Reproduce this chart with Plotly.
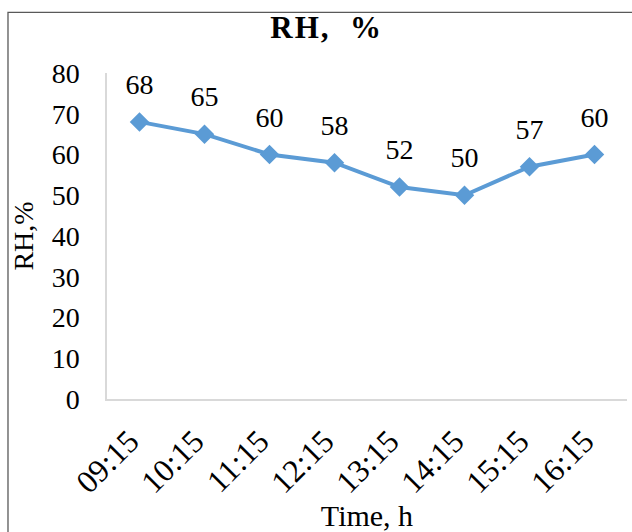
import plotly.graph_objects as go

# Relative humidity readings over the day
times = ["09:15", "10:15", "11:15", "12:15", "13:15", "14:15", "15:15", "16:15"]
rh_values = [68, 65, 60, 58, 52, 50, 57, 60]
y_ticks = [0, 10, 20, 30, 40, 50, 60, 70, 80]

FONT = "Liberation Serif"
BLUE = "#5B9BD5"

fig = go.Figure()
fig.add_trace(go.Scatter(
    x=times, y=rh_values,
    mode="lines+markers",
    line=dict(color=BLUE, width=4),
    marker=dict(symbol="diamond", size=15, color=BLUE),
    hoverinfo="skip",
    showlegend=False,
))

# value labels above each point (an invisible wide marker lifts the text)
fig.add_trace(go.Scatter(
    x=times, y=rh_values,
    mode="markers+text",
    text=[str(v) for v in rh_values],
    textposition="top center",
    textfont=dict(family=FONT, size=28, color="black"),
    marker=dict(size=32, opacity=0),
    cliponaxis=False,
    hoverinfo="skip",
    showlegend=False,
))

# outer chart frame
fig.add_shape(
    type="rect", xref="paper", yref="paper",
    x0=-0.1904, x1=1.03, y0=-0.45, y1=1.186,
    line=dict(color="#595959", width=1.3),
)

fig.update_layout(
    width=632, height=532,
    margin=dict(l=107, r=5, t=73, b=131),
    paper_bgcolor="white", plot_bgcolor="white",
    font=dict(family=FONT, size=28, color="black"),
    title=dict(
        text='<b><span style="letter-spacing:2px">RH,\u00a0\u00a0%</span></b>',
        x=0.517, xanchor="center",
        y=1 - 27 / 532, yanchor="middle",
        font=dict(family=FONT, size=31, color="black"),
    ),
    xaxis=dict(
        type="category", range=[-0.5, 7.5],
        showline=True, linecolor="#D9D9D9", linewidth=1.5,
        showgrid=False, ticks="", tickangle=-45,
        ticklabelshift=-10, ticklabelstandoff=9,
        tickfont=dict(family=FONT, size=32, color="black"),
        title=dict(text="Time, h", standoff=6,
                   font=dict(family=FONT, size=30, color="black")),
    ),
    yaxis=dict(
        range=[0, 80], tickvals=y_ticks,
        showline=True, linecolor="#D9D9D9", linewidth=1.5,
        showgrid=False, zeroline=False, ticks="",
        ticklabelstandoff=20,
        tickfont=dict(family=FONT, size=28, color="black"),
        title=dict(text="RH,%", standoff=10,
                   font=dict(family=FONT, size=28, color="black")),
    ),
)

fig.write_html("out.html")
